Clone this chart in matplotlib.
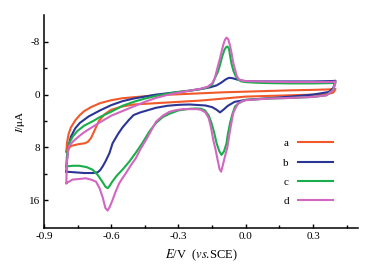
import matplotlib.pyplot as plt
import numpy as np

# 循环伏安数据 (E / V, I / uA)
a_E_up = [-0.8, -0.797, -0.79, -0.78, -0.76, -0.74, -0.72, -0.69, -0.65, -0.6, -0.55, -0.5, -0.45, -0.4,
          -0.3, -0.2, -0.1, 0.0, 0.1, 0.2, 0.3, 0.38, 0.4]
a_I_up = [8.65, 7.3, 6.0, 5.0, 3.9, 3.1, 2.5, 1.9, 1.3, 0.85, 0.55, 0.4, 0.25, 0.1,
          -0.05, -0.2, -0.35, -0.45, -0.55, -0.65, -0.72, -0.8, -0.85]
a_E_dn = [0.4, 0.39, 0.36, 0.3, 0.2, 0.1, 0.0, -0.1, -0.2, -0.3, -0.4, -0.5, -0.55, -0.6, -0.63,
          -0.655, -0.675, -0.69, -0.705, -0.72, -0.75, -0.78, -0.8]
a_I_dn = [-0.85, -0.3, -0.05, 0.0, 0.1, 0.2, 0.3, 0.6, 0.9, 1.1, 1.3, 1.5, 1.8, 2.3, 3.0,
          4.0, 5.5, 6.6, 7.2, 7.4, 7.55, 7.8, 8.65]

b_E_up = [-0.8, -0.797, -0.79, -0.78, -0.76, -0.74, -0.7, -0.65, -0.6, -0.55, -0.5, -0.45, -0.4, -0.35,
          -0.3, -0.25, -0.2, -0.16, -0.13, -0.11, -0.09, -0.075, -0.06, -0.04, -0.02, 0.0, 0.05, 0.1,
          0.2, 0.3, 0.38, 0.4]
b_I_up = [11.7, 9.8, 7.8, 6.4, 5.1, 4.3, 3.3, 2.4, 1.6, 1.0, 0.6, 0.3, 0.0, -0.2,
          -0.4, -0.6, -0.85, -1.1, -1.4, -1.8, -2.3, -2.55, -2.5, -2.3, -2.15, -2.05, -2.0, -2.0,
          -2.0, -2.0, -2.05, -2.1]
b_E_dn = [0.4, 0.39, 0.37, 0.3, 0.2, 0.1, 0.0, -0.05, -0.08, -0.1, -0.115, -0.13, -0.15, -0.18,
          -0.25, -0.3, -0.35, -0.4, -0.43, -0.47, -0.5, -0.52, -0.55, -0.57, -0.594, -0.608, -0.625,
          -0.638, -0.65, -0.661, -0.68, -0.72, -0.76, -0.8]
b_I_dn = [-2.1, -1.0, -0.4, 0.0, 0.3, 0.55, 0.8, 1.1, 1.7, 2.3, 2.7, 2.3, 1.9, 1.65,
          1.5, 1.55, 1.7, 2.0, 2.3, 2.7, 3.1, 3.8, 5.0, 6.0, 7.4, 8.9, 10.1,
          10.9, 11.5, 11.8, 11.9, 11.9, 11.8, 11.7]

c_E_up = [-0.8, -0.798, -0.793, -0.785, -0.77, -0.75, -0.72, -0.68, -0.65, -0.6, -0.55, -0.5, -0.45,
          -0.4, -0.35, -0.3, -0.25, -0.2, -0.17, -0.15, -0.138, -0.125, -0.115, -0.105, -0.095, -0.088,
          -0.082, -0.075, -0.068, -0.063, -0.055, -0.045, -0.035, -0.02, 0.0, 0.05, 0.1, 0.2, 0.3,
          0.38, 0.4]
c_I_up = [10.9, 9.5, 8.2, 7.2, 6.3, 5.5, 4.7, 4.0, 3.4, 2.6, 1.7, 1.1, 0.6,
          0.2, -0.15, -0.4, -0.6, -0.85, -1.1, -1.5, -2.5, -3.4, -4.5, -5.8, -6.8, -7.2,
          -7.3, -7.0, -5.5, -4.6, -3.6, -2.8, -2.3, -2.0, -1.9, -1.8, -1.75, -1.7, -1.7,
          -1.75, -1.8]
c_E_dn = [0.4, 0.39, 0.36, 0.3, 0.2, 0.1, 0.0, -0.018, -0.035, -0.048, -0.06, -0.07, -0.08, -0.086,
          -0.097, -0.108, -0.118, -0.13, -0.142, -0.153, -0.165, -0.182, -0.2, -0.22, -0.25, -0.3,
          -0.34, -0.37, -0.4, -0.43, -0.46, -0.49, -0.52, -0.55, -0.575, -0.595, -0.608, -0.616,
          -0.625, -0.64, -0.66, -0.683, -0.71, -0.743, -0.77, -0.8]
c_I_dn = [-1.8, -0.7, 0.1, 0.35, 0.5, 0.6, 0.8, 1.06, 1.4, 1.8, 3.0, 4.3, 6.0, 7.4,
          8.6, 9.15, 8.6, 7.4, 5.6, 4.3, 3.2, 2.4, 2.15, 2.1, 2.15, 2.4,
          2.9, 3.4, 4.3, 5.6, 7.3, 8.8, 10.2, 11.4, 12.3, 13.2, 13.9, 14.2,
          14.0, 13.2, 12.2, 11.4, 11.0, 10.8, 10.8, 10.9]

d_E_up = [-0.8, -0.798, -0.793, -0.788, -0.77, -0.743, -0.72, -0.683, -0.65, -0.6, -0.55, -0.5, -0.45,
          -0.4, -0.35, -0.3, -0.25, -0.2, -0.17, -0.15, -0.138, -0.123, -0.115, -0.108, -0.1, -0.093,
          -0.086, -0.078, -0.07, -0.063, -0.057, -0.048, -0.04, -0.03, -0.015, 0.0, 0.05, 0.1, 0.2,
          0.3, 0.38, 0.4]
d_I_up = [13.45, 10.5, 8.8, 7.8, 7.1, 6.3, 5.7, 4.9, 4.2, 3.2, 2.5, 1.8, 1.1,
          0.5, 0.05, -0.3, -0.6, -0.9, -1.2, -1.7, -2.5, -4.5, -5.5, -6.5, -7.6, -8.3,
          -8.65, -8.4, -7.4, -6.2, -5.0, -3.8, -2.8, -2.3, -2.1, -2.05, -2.0, -1.95, -1.9,
          -1.9, -1.9, -2.0]
d_E_dn = [0.4, 0.39, 0.36, 0.3, 0.2, 0.1, 0.0, -0.02, -0.033, -0.045, -0.056, -0.07, -0.082, -0.093,
          -0.103, -0.11, -0.117, -0.125, -0.135, -0.145, -0.155, -0.165, -0.18, -0.2, -0.22, -0.25,
          -0.28, -0.31, -0.34, -0.37, -0.4, -0.44, -0.47, -0.49, -0.51, -0.534, -0.55, -0.564, -0.58,
          -0.594, -0.606, -0.616, -0.626, -0.638, -0.652, -0.668, -0.69, -0.713, -0.74, -0.773, -0.8]
d_I_dn = [-2.0, -0.7, 0.1, 0.35, 0.5, 0.6, 0.85, 1.06, 1.3, 2.0, 2.8, 5.4, 8.0, 9.4,
          10.8, 11.7, 11.3, 10.0, 8.3, 6.9, 5.0, 3.6, 2.7, 2.3, 2.2, 2.2,
          2.2, 2.35, 2.6, 3.2, 4.1, 6.6, 8.3, 9.65, 10.6, 11.9, 12.7, 13.45, 14.7,
          16.0, 17.0, 17.6, 17.2, 15.6, 14.2, 13.2, 12.9, 12.7, 12.8, 12.9, 13.45]

labels = ['a', 'b', 'c', 'd']
colors = ['#f1592a', '#2b3595', '#19ad4b', '#d266c0']

plt.rcParams['font.family'] = ['Liberation Serif', 'DejaVu Serif']
plt.rcParams['mathtext.fontset'] = 'stix'
plt.rcParams['axes.unicode_minus'] = False

fig = plt.figure(figsize=(3.69, 2.66), dpi=100)
ax = fig.add_axes([0.119, 0.144, 0.851, 0.8])

curves = [(a_E_up + a_E_dn, a_I_up + a_I_dn),
          (b_E_up + b_E_dn, b_I_up + b_I_dn),
          (c_E_up + c_E_dn, c_I_up + c_I_dn),
          (d_E_up + d_E_dn, d_I_up + d_I_dn)]

for (E, I), lab, col in zip(curves, labels, colors):
    ax.plot(E, I, color=col, lw=1.5, label=lab, solid_joinstyle='round')

ax.set_xlim(-0.9, 0.5)
ax.set_ylim(20.2, -12.1)
ax.set_xticks([-0.9, -0.6, -0.3, 0.0, 0.3])
ax.set_xticklabels(['-0.9', '-0.6', '-0.3', '0.0', '0.3'])
ax.set_xticks([-0.75, -0.45, -0.15, 0.15, 0.45], minor=True)
ax.set_yticks([-8, 0, 8, 16])
ax.set_yticks([-4, 4, 12], minor=True)

for s in ['top', 'right']:
    ax.spines[s].set_visible(False)
for s in ['left', 'bottom']:
    ax.spines[s].set_linewidth(1.1)

ax.tick_params(which='both', direction='in', labelsize=8, width=1.0, pad=3)
ax.tick_params(which='major', length=3)
ax.tick_params(which='minor', length=2)

ax.set_ylabel(r'$\mathit{I}$/$\mathrm{\mu}$A', fontsize=8, labelpad=1)
ax.set_xlabel(r'$\mathit{E}$/V  ($\mathit{vs}$.SCE)', fontsize=9, labelpad=3)
ax.xaxis.set_label_coords(0.5, -0.095)

leg = ax.legend(loc='lower right', bbox_to_anchor=(0.952, 0.055), frameon=False, fontsize=8,
                markerfirst=False, handlelength=3.15, labelspacing=0.85, handletextpad=0.8)

fig.savefig('out.png', dpi=100, facecolor='white')
